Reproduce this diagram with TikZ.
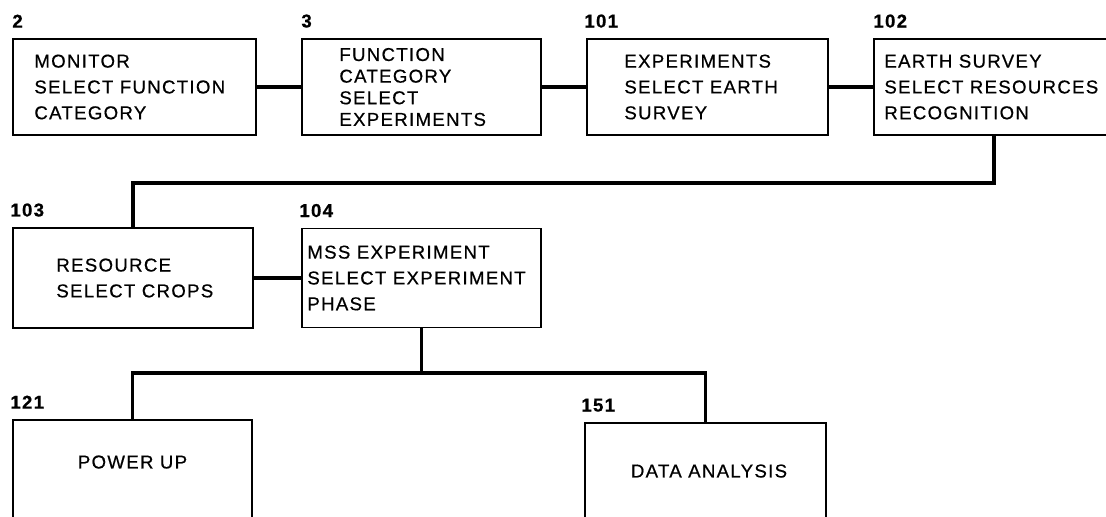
\documentclass[tikz,border=0pt]{standalone}
\usepackage{fontspec}
\setmainfont{Liberation Sans}
\newfontfamily\typewr[LetterSpace=7, FakeBold=0.6]{Liberation Sans}
\usetikzlibrary{positioning}

\begin{document}
\begin{tikzpicture}[
    box/.style={draw, line width=1.1pt, minimum height=1.92cm, inner sep=0pt},
    link/.style={line width=2.2pt},
    txt/.style={font=\typewr\fontsize{10.6}{14.7}\selectfont, align=left, inner sep=0pt},
    num/.style={font=\typewr\bfseries\fontsize{10.6}{12}\selectfont, anchor=south west, inner sep=0pt}]
  \useasboundingbox (0,0) rectangle (22.12,10.32);
  \clip (0,0) rectangle (22.12,10.32);

  % top row
  \node[box, minimum width=4.86cm] (b2) at (2.69,8.58) {};
  \node[box, minimum width=4.78cm] (b3) at (8.43,8.58) {};
  \node[box, minimum width=4.82cm] (b101) at (14.15,8.58) {};
  \node[box, minimum width=4.80cm] (b102) at (19.88,8.58) {};
  \node[txt, right=0.44cm of b2.west] (t2) {MONITOR\\SELECT FUNCTION\\CATEGORY};
  \node[txt, font=\typewr\fontsize{10.6}{12.3}\selectfont, right=0.76cm of b3.west] (t3)
    {FUNCTION\\CATEGORY\\SELECT\\EXPERIMENTS};
  \node[txt, right=0.76cm of b101.west] (t101) {EXPERIMENTS\\SELECT EARTH\\SURVEY};
  \node[txt, right=0.22cm of b102.west] (t102) {EARTH SURVEY\\SELECT RESOURCES\\RECOGNITION};

  % middle row
  \node[box, minimum width=4.80cm, minimum height=2cm] (b103) at (2.66,4.76) {};
  \node[box, minimum width=4.78cm, minimum height=1.98cm] (b104) at (8.43,4.76) {};
  \node[txt, right=0.88cm of b103.west] (t103) {RESOURCE\\SELECT CROPS};
  \node[txt, right=0.12cm of b104.west] (t104) {MSS EXPERIMENT\\SELECT EXPERIMENT\\PHASE};

  % bottom row, cut by the page edge
  \node[box, minimum width=4.78cm, minimum height=2.4cm] (b121) at (2.65,0.72) {};
  \node[box, minimum width=4.82cm, minimum height=2.4cm] (b151) at (14.11,0.66) {};
  \node[txt] (t121) at ([yshift=-0.86cm]b121.north) {POWER UP};
  \node[txt] (t151) at ([xshift=0.07cm, yshift=-0.98cm]b151.north) {DATA ANALYSIS};

  % numbers
  \node[num] (n2) at ([yshift=0.2cm]b2.north west) {2};
  \node[num] (n3) at ([yshift=0.2cm]b3.north west) {3};
  \node[num] (n101) at ([xshift=-0.04cm, yshift=0.2cm]b101.north west) {101};
  \node[num] (n102) at ([yshift=0.2cm]b102.north west) {102};
  \node[num] (n103) at ([xshift=-0.04cm, yshift=0.2cm]b103.north west) {103};
  \node[num] (n104) at ([xshift=-0.04cm, yshift=0.2cm]b104.north west) {104};
  \node[num] (n121) at ([xshift=-0.04cm, yshift=0.2cm]b121.north west) {121};
  \node[num] (n151) at ([xshift=-0.06cm, yshift=0.2cm]b151.north west) {151};

  % connectors
  \coordinate (j1) at (19.88,6.66);
  \coordinate (j2) at (8.43,2.86);
  \draw[link] (b2) -- (b3);
  \draw[link] (b3) -- (b101);
  \draw[link] (b101) -- (b102);
  \draw[link] (b102.south) -- (j1) -| (b103.north);
  \draw[link] (b103) -- (b104);
  \draw[link] (b104.south) -- (j2);
  \draw[link] (b121.north) |- (j2) -| (b151.north);
\end{tikzpicture}
\end{document}
